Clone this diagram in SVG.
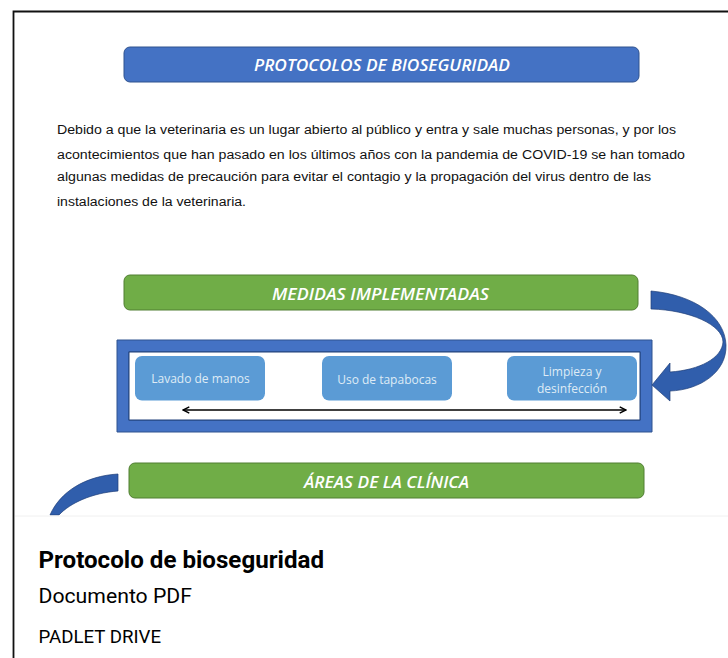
<svg xmlns="http://www.w3.org/2000/svg" width="728" height="658" viewBox="0 0 728 658">
<style>
.hd{font-family:"Open Sans","Liberation Sans",sans-serif;font-weight:600;font-style:italic;font-size:16px;fill:#fff;text-anchor:middle}
.bt{font-family:"Liberation Sans",sans-serif;font-size:13.7px;fill:#111}
.ch{font-family:"Open Sans","Liberation Sans",sans-serif;font-size:12px;fill:#dfebf5;text-anchor:middle}
.blue{fill:#4472c4;stroke:#2f528f;stroke-width:1}
.green{fill:#70ad47;stroke:#507e32;stroke-width:1}
.chip{fill:#5b9bd5}
.curve{fill:#305eac;stroke:#1f3f78;stroke-width:.7}
.r{font-family:Roboto,"Liberation Sans",sans-serif;fill:#000}
</style>
<defs>
<marker id="ah" viewBox="0 0 10 10" refX="9" refY="5" markerWidth="9" markerHeight="9" markerUnits="userSpaceOnUse" orient="auto-start-reverse"><path d="M2 1.500L9 5L2 8.500" fill="none" stroke="#000" stroke-width="1.6"/></marker>
</defs>
<rect width="728" height="658" fill="#fff"/>
<path id="frame" d="M728 11.5H13.5V658" fill="none" stroke="#111" stroke-width="1.8"/>
<g id="title"><rect class="blue" x="124" y="47" width="515" height="35" rx="6"/><text class="hd" x="382" y="71" textLength="256" lengthAdjust="spacingAndGlyphs">PROTOCOLOS DE BIOSEGURIDAD</text></g>
<g id="intro" class="bt">
<text x="57" y="134" textLength="619" lengthAdjust="spacingAndGlyphs">Debido a que la veterinaria es un lugar abierto al público y entra y sale muchas personas, y por los</text>
<text x="57" y="159" textLength="628" lengthAdjust="spacingAndGlyphs">acontecimientos que han pasado en los últimos años con la pandemia de COVID-19 se han tomado</text>
<text x="57" y="181" textLength="594" lengthAdjust="spacingAndGlyphs">algunas medidas de precaución para evitar el contagio y la propagación del virus dentro de las</text>
<text x="57" y="206" textLength="189" lengthAdjust="spacingAndGlyphs">instalaciones de la veterinaria.</text>
</g>
<g id="medidas"><rect class="green" x="124" y="275" width="514" height="35" rx="6"/><text class="hd" x="380.500" y="300" textLength="217" lengthAdjust="spacingAndGlyphs">MEDIDAS IMPLEMENTADAS</text></g>
<g id="box"><path fill="#4472c4" stroke="#2f528f" fill-rule="evenodd" d="M117 340H652V432H117ZM129 352V420H640V352Z"/><rect x="129" y="352" width="511" height="68" fill="#fff" stroke="#1f3f78"/></g>
<g id="lavado"><rect class="chip" x="135" y="356" width="130" height="44.500" rx="7"/><text class="ch" x="200.500" y="383">Lavado de manos</text></g>
<g id="uso"><rect class="chip" x="322" y="356" width="130" height="44.500" rx="7"/><text class="ch" x="387" y="384">Uso de tapabocas</text></g>
<g id="limpieza"><rect class="chip" x="507" y="356" width="130" height="44.500" rx="7"/><text class="ch" x="572" y="376">Limpieza y</text><text class="ch" x="572" y="393">desinfección</text></g>
<g id="connectors">
<line x1="183" y1="410" x2="626" y2="410" stroke="#000" stroke-width="1.3" marker-start="url(#ah)" marker-end="url(#ah)"/>
<path class="curve" d="M651 291C695 295 725 317 726 345C727 372 700 390 670 391L670 401L652 385L670 363L670 372C700 370 722 358 723 342C723 325 690 310 651 309Z"/>
<path class="curve" d="M118 474V491C92 493 70 503 59 515H50C60 492 85 476 118 474Z"/>
</g>
<g id="areas"><rect class="green" x="129" y="463" width="515" height="35" rx="6"/><text class="hd" x="386.500" y="488" textLength="165" lengthAdjust="spacingAndGlyphs">ÁREAS DE LA CLÍNICA</text></g>
<g id="card"><rect x="15" y="516" width="713" height="142" fill="#fff"/><line x1="15" y1="516" x2="728" y2="516" stroke="#f0f0f0"/>
<text class="r" x="38.500" y="568" font-size="24" font-weight="700" textLength="285.500" lengthAdjust="spacingAndGlyphs">Protocolo de bioseguridad</text>
<text class="r" x="38.500" y="603" font-size="21" textLength="153.500" lengthAdjust="spacingAndGlyphs">Documento PDF</text>
<text class="r" x="38.500" y="643" font-size="18.500" textLength="122.500" lengthAdjust="spacingAndGlyphs">PADLET DRIVE</text></g>
</svg>
